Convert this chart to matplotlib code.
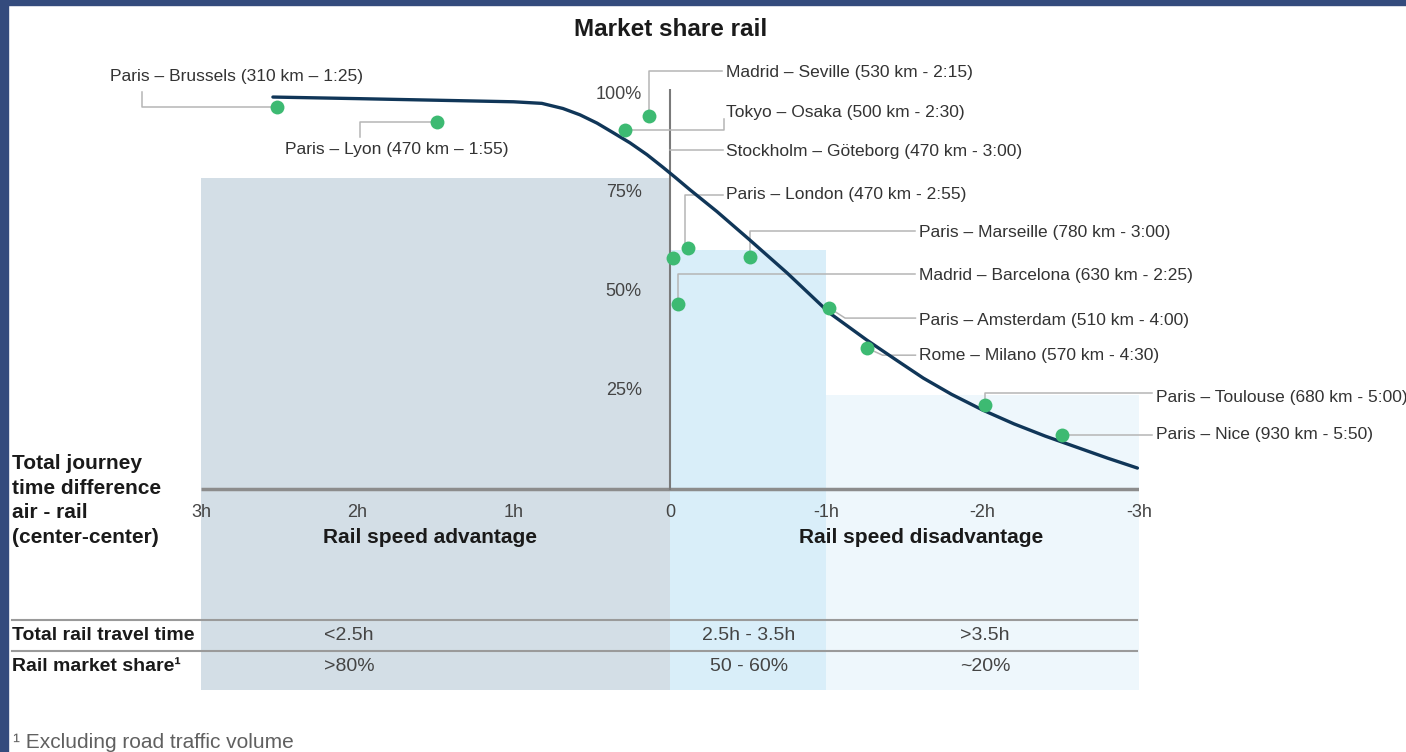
# rail market share vs journey time difference air - rail
import matplotlib
matplotlib.use('Agg')
from matplotlib import pyplot as plt
from matplotlib.patches import Rectangle

plt.rcParams['font.family'] = ['Liberation Sans', 'DejaVu Sans']

# data (x: hours of rail advantage, y: rail market share %)
hour_ticks = [3, 2, 1, 0, -1, -2, -3]
hour_labels = ['3h', '2h', '1h', '0', '-1h', '-2h', '-3h']
share_ticks = [100, 75, 50, 25]
share_labels = ['100%', '75%', '50%', '25%']

curve_x = [2.54, 2.0, 1.5, 1.0, 0.82, 0.685, 0.576, 0.467, 0.365, 0.256, 0.147, 0.045,
           -0.032, -0.128, -0.3, -0.51, -0.75, -1.02, -1.26, -1.45, -1.62, -1.8, -2.0,
           -2.2, -2.4, -2.6, -2.8, -2.99]
curve_y = [99.3, 98.9, 98.5, 98.1, 97.7, 96.4, 94.8, 92.7, 90.3, 87.7, 84.7, 81.5,
           79.0, 75.8, 70.3, 63.1, 54.7, 44.6, 37.7, 32.6, 28.1, 24.0, 20.0,
           16.5, 13.4, 10.6, 7.8, 5.3]

routes = ['Paris – Brussels (310 km – 1:25)',
          'Paris – Lyon (470 km – 1:55)',
          'Madrid – Seville (530 km - 2:15)',
          'Tokyo – Osaka (500 km - 2:30)',
          'Stockholm – Göteborg (470 km - 3:00)',
          'Paris – London (470 km - 2:55)',
          'Paris – Marseille (780 km - 3:00)',
          'Madrid – Barcelona (630 km - 2:25)',
          'Paris – Amsterdam (510 km - 4:00)',
          'Rome – Milano (570 km - 4:30)',
          'Paris – Toulouse (680 km - 5:00)',
          'Paris – Nice (930 km - 5:50)']
route_x = [2.514, 1.491, 0.134, 0.288, -0.019, -0.115, -0.512, -0.051, -1.017, -1.26, -2.015, -2.508]
route_y = [96.8, 93.0, 94.5, 91.0, 58.5, 61.1, 58.8, 46.9, 45.9, 35.7, 21.3, 13.7]

zone_edges = [3, 0, -1, -3]
zone_tops = [78.8, 60.6, 23.8]
zone_colors = ['#d3dee6', '#d9eef9', '#eef7fc']

row_names = ['Total rail travel time', 'Rail market share¹']
travel_time = ['<2.5h', '2.5h - 3.5h', '>3.5h']
market_share = ['>80%', '50 - 60%', '~20%']

# label layout: text anchor (left, center) and leader path per route
label_pos = [(3.583, 104.4), (2.463, 86.0), (-0.358, 105.4), (-0.358, 95.3),
             (-0.358, 85.6), (-0.358, 74.5), (-1.593, 64.9), (-1.593, 54.2),
             (-1.593, 42.8), (-1.593, 33.7), (-3.109, 23.3), (-3.109, 13.7)]
leaders = [[(3.378, 100.6), (3.378, 96.8), (2.514, 96.8)],
           [(1.983, 89.2), (1.983, 93.0), (1.491, 93.0)],
           [(-0.33, 105.9), (0.134, 105.9), (0.134, 94.5)],
           [(-0.345, 93.8), (-0.345, 91.0), (0.288, 91.0)],
           [(-0.34, 85.9), (0.0, 85.9)],
           [(-0.34, 74.5), (-0.096, 74.5), (-0.096, 61.5)],
           [(-1.57, 65.4), (-0.512, 65.4), (-0.512, 58.8)],
           [(-1.57, 54.5), (-0.051, 54.5), (-0.051, 46.9)],
           [(-1.017, 45.9), (-1.12, 43.3), (-1.57, 43.3)],
           [(-1.26, 35.7), (-1.36, 33.9), (-1.57, 33.9)],
           [(-2.015, 21.3), (-2.015, 24.3), (-3.08, 24.3)],
           [(-2.508, 13.7), (-3.08, 13.7)]]

fig = plt.figure(figsize=(14.06, 7.52), dpi=100)
fig.patch.set_facecolor('white')
ax = fig.add_axes([0.14296, 0.08245, 0.66714, 0.7992])
ax.set_xlim(3, -3)
ax.set_ylim(-50.93, 101.34)
ax.axis('off')

y_bottom = -50.93

# background zones
for i in range(len(zone_tops)):
    ax.fill_between([zone_edges[i], zone_edges[i + 1]], y_bottom, zone_tops[i],
                    color=zone_colors[i], lw=0, zorder=0)

# axes lines
ax.plot([3, -3], [0, 0], color='#8c8c8c', lw=2.5, zorder=2, solid_capstyle='butt')
ax.plot([0, 0], [0, 101.3], color='#7a7a7a', lw=1.5, zorder=2)

# table lines
for yl in [-33.2, -41.0]:
    ax.plot([4.21, -2.99], [yl, yl], color='#9a9a9a', lw=1.5, clip_on=False, zorder=2)

# leaders
for path in leaders:
    xs = [p[0] for p in path]
    ys = [p[1] for p in path]
    ax.plot(xs, ys, color='#b5b5b5', lw=1.1, clip_on=False, zorder=3)

# curve and points
ax.plot(curve_x, curve_y, color='#103658', lw=2.4, zorder=4,
        solid_capstyle='round', solid_joinstyle='round')
ax.plot(route_x, route_y, 'o', color='#3dba72', ms=10, mec='none', zorder=5, clip_on=False)

for name, (tx, ty) in zip(routes, label_pos):
    ax.text(tx, ty, name, ha='left', va='center', fontsize=12.5, color='#333333',
            clip_on=False, zorder=6)

# tick labels
for h, lab in zip(hour_ticks, hour_labels):
    ax.text(h, -5.9, lab, ha='center', va='center', fontsize=13, color='#444444')
for s, lab in zip(share_ticks, share_labels):
    ax.text(0.18, s, lab, ha='right', va='center', fontsize=13, color='#444444')

ax.text(1.535, -12.4, 'Rail speed advantage', ha='center', va='center',
        fontsize=15, fontweight='bold', color='#1a1a1a')
ax.text(-1.606, -12.4, 'Rail speed disadvantage', ha='center', va='center',
        fontsize=15, fontweight='bold', color='#1a1a1a')

ax.text(4.21, -2.9, 'Total journey\ntime difference\nair - rail\n(center-center)',
        ha='left', va='center', fontsize=15, fontweight='bold', color='#1a1a1a',
        linespacing=1.38, clip_on=False)

# table
row_y = [-37.0, -45.1]
for name, ry in zip(row_names, row_y):
    ax.text(4.21, ry, name, ha='left', va='center', fontsize=14, fontweight='bold',
            color='#1a1a1a', clip_on=False)
ax.text(2.214, row_y[0], travel_time[0], ha='left', va='center', fontsize=14, color='#444444')
ax.text(2.214, row_y[1], market_share[0], ha='left', va='center', fontsize=14, color='#444444')
for cx, t, m in zip([-0.505, -2.015], travel_time[1:], market_share[1:]):
    ax.text(cx, row_y[0], t, ha='center', va='center', fontsize=14, color='#444444')
    ax.text(cx, row_y[1], m, ha='center', va='center', fontsize=14, color='#444444')

fig.text(671 / 1406, 1 - 30 / 752, 'Market share rail', ha='center', va='center',
         fontsize=17.5, fontweight='bold', color='#1a1a1a')
fig.text(13 / 1406, 1 - 743 / 752, '¹ Excluding road traffic volume', ha='left',
         va='center', fontsize=15, color='#606060')

# navy frame on top and left
fig.patches.append(Rectangle((0, 1 - 5 / 752), 1, 5 / 752, transform=fig.transFigure,
                             color='#344b7d', zorder=10))
fig.patches.append(Rectangle((0, 0), 8 / 1406, 1, transform=fig.transFigure,
                             color='#344b7d', zorder=10))

plt.savefig('out.png', dpi=100)
